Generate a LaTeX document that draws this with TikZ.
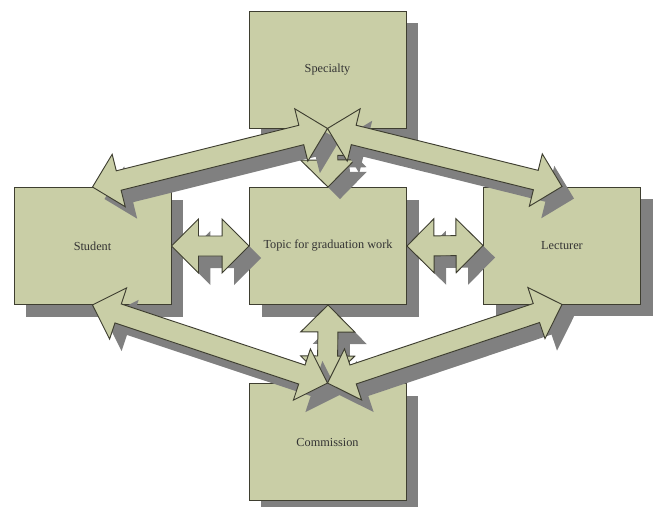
\documentclass[tikz,border=0pt]{standalone}
\usepackage{fontspec}
\setmainfont{Liberation Serif}
\usetikzlibrary{calc,shadows}
\definecolor{boxfill}{RGB}{201,206,166}
\definecolor{boxline}{RGB}{62,62,48}
\definecolor{shadowgray}{RGB}{128,128,128}

% block arrow with a head at both ends
\newcommand{\twoway}[2]{%
  \coordinate (p1) at ($(#1)!\headlen!(#2)$);
  \coordinate (p2) at ($(#2)!\headlen!(#1)$);
  \draw[blockarrow] (#1) -- ($(p1)!\headwd!90:(#2)$) -- ($(p1)!\shaftwd!90:(#2)$)
    -- ($(p2)!\shaftwd!-90:(#1)$) -- ($(p2)!\headwd!-90:(#1)$) -- (#2)
    -- ($(p2)!\headwd!90:(#1)$) -- ($(p2)!\shaftwd!90:(#1)$)
    -- ($(p1)!\shaftwd!-90:(#2)$) -- ($(p1)!\headwd!-90:(#2)$) -- cycle;
}

\begin{document}
\begin{tikzpicture}[x=0.75pt, y=-0.75pt,
    myshadow/.style={drop shadow={shadow xshift=9pt, shadow yshift=-9pt, opacity=1, fill=shadowgray}},
    blockbox/.style={draw=boxline, fill=boxfill, line width=0.7pt, myshadow,
      minimum width=117.75pt, minimum height=87.75pt, inner sep=0pt,
      text=black!80, font=\fontsize{9.2}{11}\selectfont},
    blockarrow/.style={draw=boxline, fill=boxfill, line width=0.7pt, line join=miter, myshadow}]

    % constants
    \def\headlen{20.25pt}
    \def\headwd{20.25pt}
    \def\shaftwd{7.5pt}

    \useasboundingbox (0,0) rectangle (657,507);

    % boxes
    \node[blockbox] (spe) at (327.5,69.5) {Specialty};
    \node[blockbox] (stu) at (92.5,246) {Student};
    \node[blockbox] (topic) at (328,246) {Topic for graduation work};
    \node[blockbox] (lec) at (562,245.5) {Lecturer};
    \node[blockbox] (com) at (327.5,442) {Commission};

    % arrows to the topic
    \twoway{spe.south}{topic.north}
    \twoway{topic.south}{com.north}
    \twoway{stu.east}{topic.west}
    \twoway{topic.east}{lec.west}

    % arrows round the outside
    \twoway{stu.north}{spe.south}
    \twoway{spe.south}{lec.north}
    \twoway{stu.south}{com.north}
    \twoway{com.north}{lec.south}

\end{tikzpicture}
\end{document}
